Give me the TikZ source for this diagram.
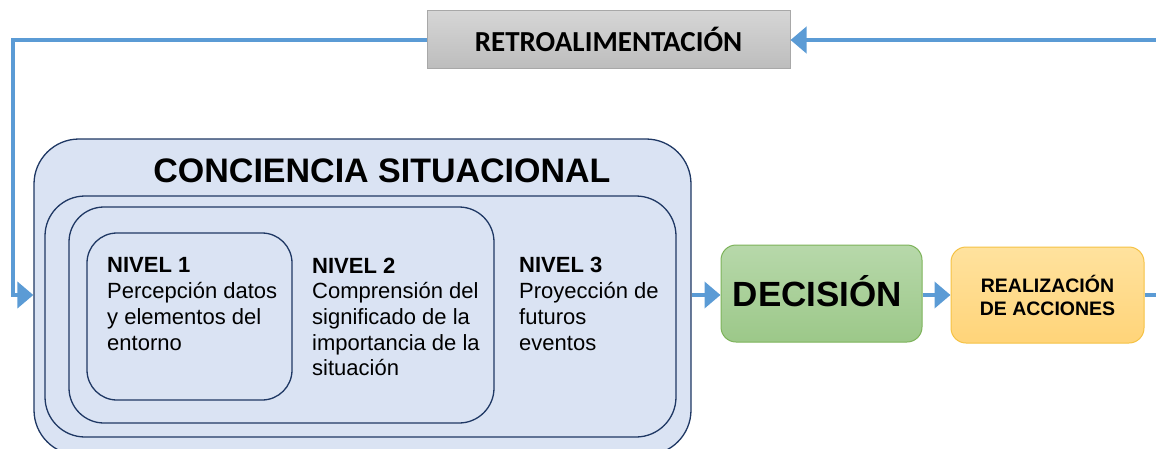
\documentclass[tikz,border=0pt]{standalone}
\usepackage{fontspec}
\setmainfont{Liberation Sans}
\newfontfamily\calib{Carlito}
\usetikzlibrary{arrows.meta}
\definecolor{lineblue}{HTML}{5B9BD5}
\definecolor{boxfill}{HTML}{DAE3F3}
\definecolor{boxline}{HTML}{1F3864}
\definecolor{greentop}{HTML}{B7D8AA}
\definecolor{greenbot}{HTML}{9CC889}
\definecolor{greenline}{HTML}{7DB35A}
\definecolor{orangetop}{HTML}{FFE29E}
\definecolor{orangebot}{HTML}{FFD479}
\definecolor{orangeline}{HTML}{F5C244}
\definecolor{graytop}{HTML}{D6D6D6}
\definecolor{graybot}{HTML}{BDBDBD}
\definecolor{grayline}{HTML}{A8A8A8}
\tikzset{
  csbox/.style={draw=boxline, fill=boxfill, line width=1.3pt, inner sep=0pt},
  flow/.style={draw=lineblue, line width=4pt, -{Triangle[length=16pt,width=26pt]}},
  flowplain/.style={draw=lineblue, line width=4pt},
  lvltext/.style={font=\fontsize{22}{25.7}\selectfont, align=left, inner sep=0pt, anchor=base west},
}
\begin{document}
\begin{tikzpicture}[x=1pt,y=-1pt]
\useasboundingbox (0,0) rectangle (1156,448);
\clip (0,0) rectangle (1156,448);
% nested boxes
\node[csbox, minimum width=657pt, minimum height=316pt, rounded corners=45pt] (outer) at (362.5,297) {};
\node[csbox, minimum width=631pt, minimum height=241pt, rounded corners=40pt] (lvl3) at (360.5,316.5) {};
\node[csbox, minimum width=425pt, minimum height=216pt, rounded corners=35pt] (lvl2) at (281.5,315) {};
\node[csbox, minimum width=205pt, minimum height=167pt, rounded corners=30pt] (lvl1) at (189.5,316.5) {};
\node[font=\fontsize{34}{34}\selectfont\bfseries, inner sep=0pt, anchor=base] (cstitle) at (382,182) {CONCIENCIA SITUACIONAL};
% base anchor = last line baseline
\node[lvltext] (t1) at (107,350) {\textbf{NIVEL 1}\\Percepción datos\\y elementos del\\entorno};
\node[lvltext] (t2) at (312,375.8) {\textbf{NIVEL 2}\\Comprensión del\\significado de la\\importancia de la\\situación};
\node[lvltext] (t3) at (519,350) {\textbf{NIVEL 3}\\Proyección de\\futuros\\eventos};
% decision
\node[draw=greenline, top color=greentop, bottom color=greenbot, line width=1pt, rounded corners=15pt, minimum width=201pt, minimum height=97pt, inner sep=0pt] (dec) at (821.5,293.5) {};
\node[font=\fontsize{35}{35}\selectfont\bfseries, inner sep=0pt, anchor=base] (dectext) at (817.5,306) {DECISIÓN};
% realizacion
\node[draw=orangeline, top color=orangetop, bottom color=orangebot, line width=1pt, rounded corners=15pt, minimum width=193pt, minimum height=96pt, inner sep=0pt, align=center, font=\fontsize{19.5}{23}\selectfont\bfseries] (real) at (1047.5,295) {REALIZACIÓN\\DE ACCIONES};
% retro
\node[draw=grayline, top color=graytop, bottom color=graybot, line width=1pt, minimum width=363pt, minimum height=58pt, inner sep=0pt, font=\calib\fontsize{29}{29}\selectfont\bfseries] (retro) at (608.5,39) {RETROALIMENTACIÓN};
% connectors
\coordinate (rin) at (1160,40);
\coordinate (rout) at (1160,295);
\coordinate (lc1) at (12.5,40);
\coordinate (lc2) at (12.5,295);
\draw[flow] (rin) -- (retro.east |- rin);
\draw[flow] (retro.west |- lc1) -- (lc1) -- (lc2) -- (outer.west |- lc2);
\draw[flow] (outer.east |- lc2) -- (dec.west |- lc2);
\draw[flow] (dec.east |- lc2) -- (real.west |- lc2);
\draw[flowplain] (real.east |- rout) -- (rout);
\end{tikzpicture}
\end{document}
